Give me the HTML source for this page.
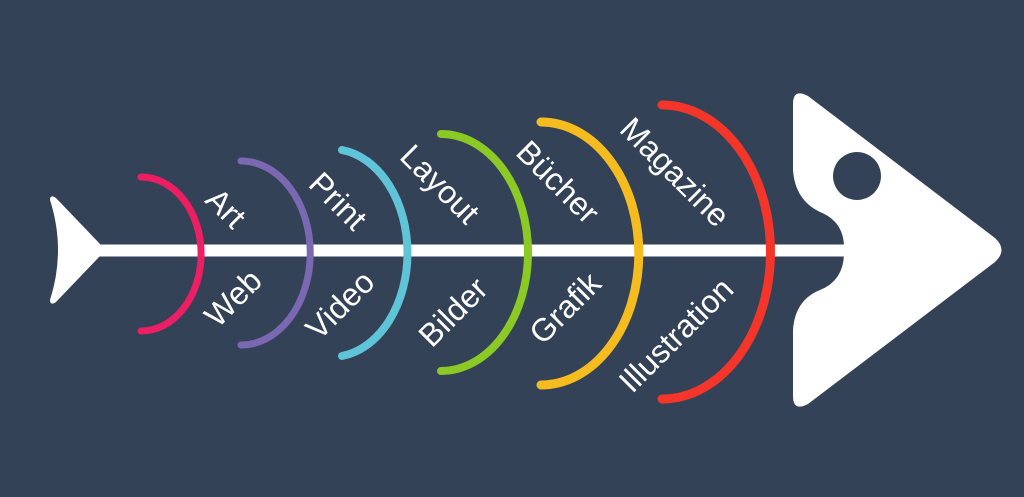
<!DOCTYPE html>
<html><head><meta charset="utf-8"><style>
html,body{margin:0;padding:0;background:#344257;}
svg{display:block}
text{font-family:"Liberation Sans",sans-serif;font-size:32px;fill:#fff;}
</style></head><body>
<svg width="1024" height="497" viewBox="0 0 1024 497">
<rect width="1024" height="497" fill="#344257"/>
<rect x="96" y="244.5" width="760" height="12" fill="#fff"/>
<path d="M50 200 Q50 194 56 198 L100 244 L100 256 L56 302 Q50 306 50 300 Q66 250 50 200 Z" fill="#fff"/>
<path d="M793 104 Q793 88 808 96 L995 238 Q1008 250 995 262 L808 404 Q793 412 793 396 L793 330 Q795 300 820 290 Q845 280 844 250 Q845 222 820 212 Q795 200 793 170 Z" fill="#fff"/>
<circle cx="857" cy="176" r="24" fill="#344257"/>
<g fill="none" stroke-linecap="round">
<path d="M141 177 A57 73 0 0 1 141 331" stroke="#ed1e63" stroke-width="7"/>
<path d="M241 161 A67 89 0 0 1 241 345" stroke="#7b68b2" stroke-width="7"/>
<path d="M342 150 A76 104 0 0 1 342 356" stroke="#5fc4d8" stroke-width="8"/>
<path d="M441 134 A86 117 0 0 1 441 371" stroke="#8bc924" stroke-width="8"/>
<path d="M541 122 A96 129 0 0 1 541 385" stroke="#f5bc1f" stroke-width="9"/>
<path d="M662 105 A107 145 0 0 1 662 399" stroke="#f3352a" stroke-width="9"/>
</g>
<g text-anchor="middle" dominant-baseline="central">
<text transform="translate(226,208) rotate(45)">Art</text>
<text transform="translate(233,298) rotate(-45)">Web</text>
<text transform="translate(338,201) rotate(45)">Print</text>
<text transform="translate(340,305) rotate(-45)">Video</text>
<text transform="translate(440,184) rotate(45)">Layout</text>
<text transform="translate(453,312) rotate(-45)">Bilder</text>
<text transform="translate(558,182) rotate(45)">Bücher</text>
<text transform="translate(565,308) rotate(-45)">Grafik</text>
<text transform="translate(675,172) rotate(45)">Magazine</text>
<text transform="translate(676,335) rotate(-45)">Illustration</text>
</g>
</svg>
</body></html>
